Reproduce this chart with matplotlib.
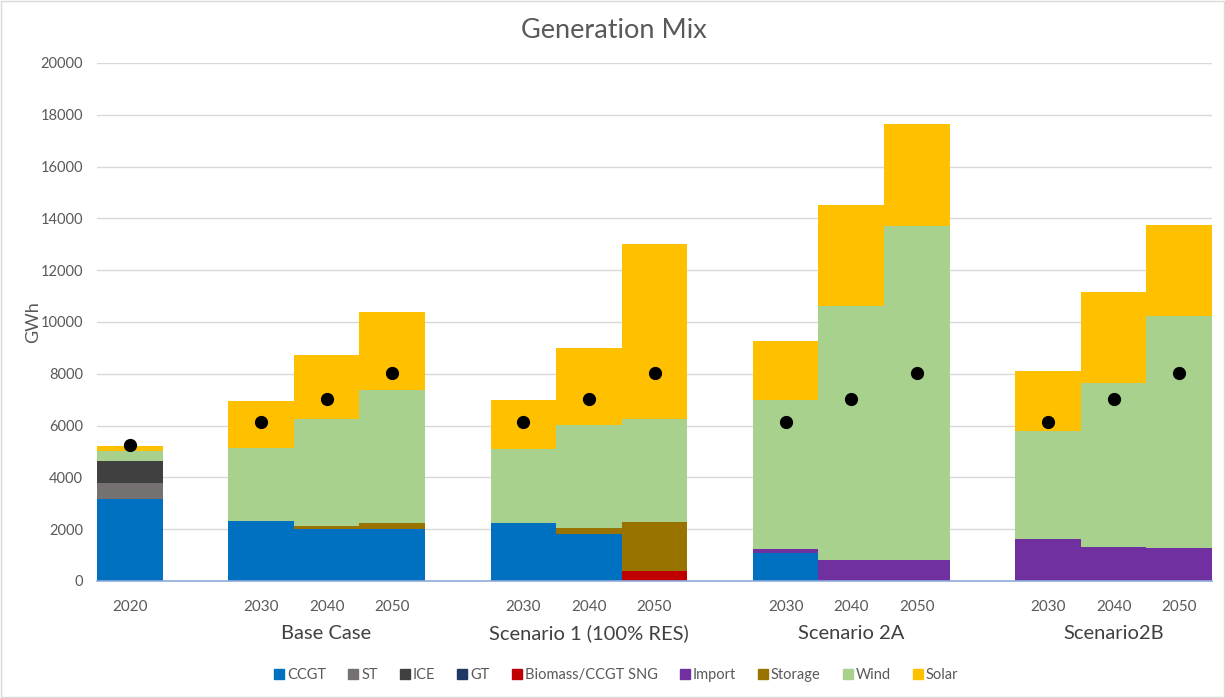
#!/usr/bin/env python3
import numpy as np
import matplotlib.pyplot as plt
from matplotlib.lines import Line2D

plt.rcParams['font.family'] = ['Lato', 'DejaVu Sans']

# scenario groups and the years inside each
groups = ['', 'Base Case', 'Scenario 1 (100% RES)', 'Scenario 2A', 'Scenario2B']
years = [['2020'],
         ['2030', '2040', '2050'],
         ['2030', '2040', '2050'],
         ['2030', '2040', '2050'],
         ['2030', '2040', '2050']]

# generation per technology, GWh, one value per bar
ccgt    = [3150, 2320, 2000, 2000, 2240, 1800, 0,    1070, 0,    0,    0,    0,    0]
st      = [630,  0,    0,    0,    0,    0,    0,    0,    0,    0,    0,    0,    0]
ice     = [850,  0,    0,    0,    0,    0,    0,    0,    0,    0,    0,    0,    0]
gt      = [0,    0,    0,    0,    0,    0,    0,    0,    0,    0,    0,    0,    0]
biomass = [0,    0,    0,    0,    0,    0,    400,  0,    0,    0,    0,    0,    0]
imports = [0,    0,    0,    0,    0,    0,    0,    150,  800,  800,  1610, 1330, 1280]
storage = [0,    0,    110,  230,  0,    230,  1870, 0,    0,    0,    0,    0,    0]
wind    = [390,  2830, 4150, 5150, 2850, 3980, 3970, 5770, 9820, 12910, 4190, 6320, 8970]
solar   = [210,  1800, 2480, 2990, 1900, 3000, 6790, 2280, 3900, 3930, 2320, 3500, 3500]
demand  = [5250, 6150, 7030, 8050, 6150, 7030, 8050, 6150, 7030, 8050, 6150, 7030, 8050]

series = [
    ('CCGT', ccgt, '#0070C0'),
    ('ST', st, '#767171'),
    ('ICE', ice, '#404040'),
    ('GT', gt, '#203864'),
    ('Biomass/CCGT SNG', biomass, '#C00000'),
    ('Import', imports, '#7030A0'),
    ('Storage', storage, '#997300'),
    ('Wind', wind, '#A9D18E'),
    ('Solar', solar, '#FFC000'),
]


def main():
    fig = plt.figure(figsize=(12.25, 6.98), dpi=100)
    ax = fig.add_axes([97/1225, 1 - 581/698, (1212 - 97)/1225, (581 - 63)/698])

    # one empty slot between scenario groups
    x = []
    centers = []
    pos = 0
    for yrs in years:
        grp = []
        for _ in yrs:
            grp.append(pos)
            pos += 1
        x.extend(grp)
        centers.append(np.mean(grp))
        pos += 1
    x = np.array(x, dtype=float)

    bottom = np.zeros(len(x))
    handles = []
    for name, vals, color in series:
        vals = np.array(vals, dtype=float)
        ax.bar(x, vals, width=1.0, bottom=bottom, color=color,
               edgecolor='none', zorder=2)
        bottom += vals
        handles.append(Line2D([], [], marker='s', linestyle='none',
                              markersize=6.5, color=color, label=name))

    ax.plot(x, demand, 'o', color='black', markersize=8.5, zorder=3)

    ax.set_xlim(-0.5, x[-1] + 0.5)
    ax.set_ylim(0, 20000)
    ax.set_yticks(np.arange(0, 20001, 2000))
    ax.tick_params(axis='y', length=0, labelsize=10.5, labelcolor='#595959', pad=10)
    ax.grid(axis='y', color='#D9D9D9', linewidth=1, zorder=0)
    ax.set_axisbelow(True)

    ax.set_xticks(x)
    ax.set_xticklabels([y for yrs in years for y in yrs])
    ax.tick_params(axis='x', length=0, labelsize=11, labelcolor='#595959', pad=14)
    for c, g in zip(centers, groups):
        ax.text(c, -0.101, g, transform=ax.get_xaxis_transform(),
                ha='center', va='center', fontsize=14.5, color='#404040')

    for s in ['top', 'right', 'left']:
        ax.spines[s].set_visible(False)
    ax.spines['bottom'].set_color('#8FAADC')
    ax.spines['bottom'].set_linewidth(1.2)

    ax.set_ylabel('GWh', fontsize=13, color='#595959', va='center')
    ax.yaxis.set_label_coords(-64/1115, 0.5)
    fig.text(614/1225, 1 - 30/698, 'Generation Mix', ha='center', va='center',
             fontsize=19.5, color='#595959')

    fig.legend(handles=handles, loc='center', bbox_to_anchor=(615/1225, 1 - 675/698),
               ncol=9, frameon=False, fontsize=10.5, handletextpad=0.05,
               columnspacing=1.35, handlelength=1.0, labelcolor='#595959')

    fig.patches.append(plt.Rectangle((0.001, 0.001), 0.998, 0.998,
                                     transform=fig.transFigure, fill=False,
                                     edgecolor='#D9D9D9', linewidth=1))

    fig.savefig('out.png', dpi=100)


if __name__ == '__main__':
    main()
